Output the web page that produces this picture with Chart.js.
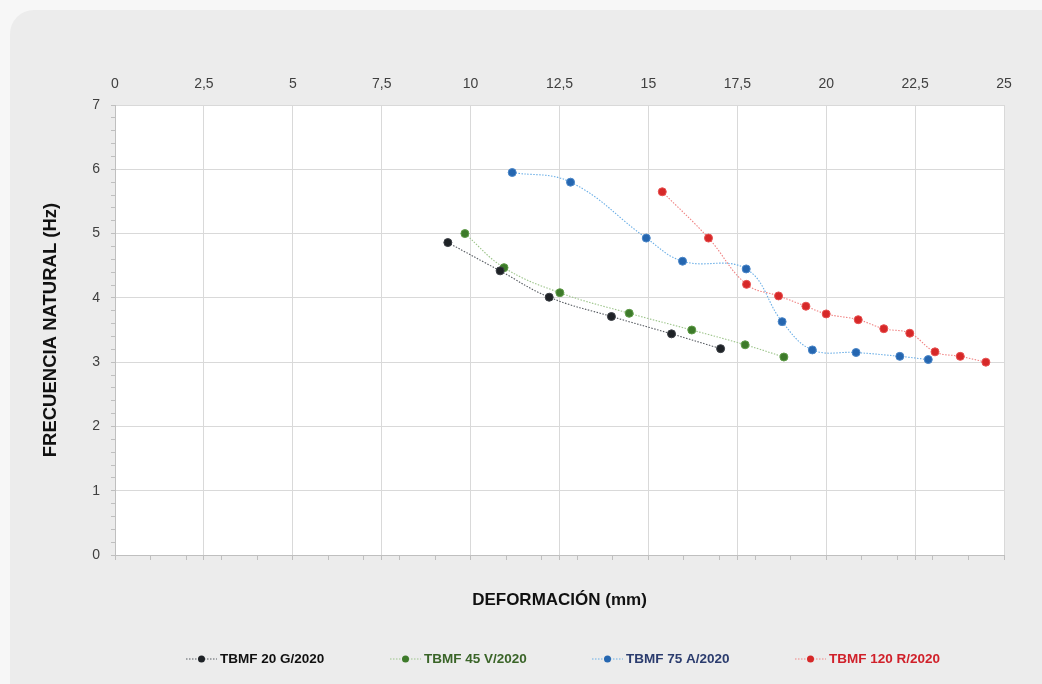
<!DOCTYPE html>
<html lang="es">
<head>
<meta charset="utf-8">
<title>Frecuencia natural vs deformación</title>
<script src="https://cdn.jsdelivr.net/npm/chart.js@4"></script>
<style>
  html, body { margin: 0; padding: 0; background: #f7f7f7; }
  #wrap { width: 1042px; height: 684px; position: relative; }
</style>
</head>
<body>
<div id="wrap"><canvas id="chart"></canvas></div>
<script>
// series names (legend order)
const seriesNames = ['TBMF 20 G/2020', 'TBMF 45 V/2020', 'TBMF 75 A/2020', 'TBMF 120 R/2020'];

// deformación (mm) / frecuencia natural (Hz)
const def20G  = [9.36, 10.83, 12.21, 13.96, 15.65, 17.03];
const freq20G = [4.86, 4.42, 4.01, 3.71, 3.44, 3.21];

const def45V  = [9.84, 10.94, 12.51, 14.46, 16.22, 17.72, 18.81];
const freq45V = [5.00, 4.47, 4.08, 3.76, 3.50, 3.27, 3.08];

const def75A  = [11.17, 12.81, 14.94, 15.96, 17.75, 18.76, 19.61, 20.84, 22.07, 22.87];
const freq75A = [5.95, 5.80, 4.93, 4.57, 4.45, 3.63, 3.19, 3.15, 3.09, 3.04];

const def120R  = [15.39, 16.69, 17.76, 18.66, 19.43, 20.00, 20.90, 21.62, 22.35, 23.06, 23.77, 24.49];
const freq120R = [5.65, 4.93, 4.21, 4.03, 3.87, 3.75, 3.66, 3.52, 3.45, 3.16, 3.09, 3.00];

// axis ranges
const xMin = 0, xMax = 25, xStep = 2.5;
const yMin = 0, yMax = 7;

const FONT = '"Liberation Sans", Arial, sans-serif';
const legendColors = ['#111111', '#3a6428', '#2b3c6e', '#d0202a'];
const legendX = [186, 390, 592, 795];

const isWhole = v => Math.abs(v - Math.round(v)) < 1e-6;

// bottom axis marks: every unit plus every 2.5
const bottomMarks = [];
for (let k = 0; k <= 50; k++) {
    const v = k / 2;
    if (isWhole(v) || isWhole(v / 2.5)) bottomMarks.push(v);
}
const yMarks = [];
for (let k = 0; k <= 35; k++) yMarks.push(k / 5);

function series(label, xs, ys, line, marker, edge) {
    return {
        label,
        data: xs.map((x, i) => ({x, y: ys[i]})),
        borderColor: line,
        borderWidth: 1.1,
        borderDash: [1.5, 1.5],
        pointBackgroundColor: marker,
        pointBorderColor: edge,
        pointBorderWidth: 1,
        pointRadius: 4,
        pointHoverRadius: 4,
        tension: 0.4,
        fill: false,
        xAxisID: 'x',
        yAxisID: 'y'
    };
}

const panel = {
    id: 'panel',
    beforeDraw(chart) {
        const {ctx, chartArea: a} = chart;
        ctx.save();
        ctx.fillStyle = '#f7f7f7';
        ctx.fillRect(0, 0, chart.width, chart.height);
        ctx.fillStyle = '#ececec';
        ctx.beginPath();
        ctx.roundRect(10, 10, chart.width + 20, chart.height + 20, 24);
        ctx.fill();
        ctx.fillStyle = '#ffffff';
        ctx.fillRect(a.left, a.top, a.right - a.left, a.bottom - a.top);
        ctx.restore();
    }
};

const lineLegend = {
    id: 'lineLegend',
    afterDraw(chart) {
        const ctx = chart.ctx;
        const y = 659;
        ctx.save();
        ctx.font = 'bold 13.5px ' + FONT;
        ctx.textBaseline = 'middle';
        chart.data.datasets.forEach((ds, i) => {
            const x = legendX[i];
            ctx.strokeStyle = ds.borderColor;
            ctx.lineWidth = 1.2;
            ctx.setLineDash([1.5, 1.5]);
            ctx.beginPath();
            ctx.moveTo(x, y);
            ctx.lineTo(x + 31, y);
            ctx.stroke();
            ctx.setLineDash([]);
            ctx.fillStyle = ds.pointBackgroundColor;
            ctx.beginPath();
            ctx.arc(x + 15.5, y, 3.5, 0, Math.PI * 2);
            ctx.fill();
            ctx.fillStyle = legendColors[i];
            ctx.fillText(ds.label, x + 34, y);
        });
        ctx.restore();
    }
};

new Chart(document.getElementById('chart'), {
    type: 'line',
    data: {
        datasets: [
            series(seriesNames[0], def20G, freq20G, '#555a60', '#1e2226', '#3a3e44'),
            series(seriesNames[1], def45V, freq45V, '#9cc48a', '#3d7a2a', '#5f9c48'),
            series(seriesNames[2], def75A, freq75A, '#6aaee6', '#2566b0', '#4a86c8'),
            series(seriesNames[3], def120R, freq120R, '#f08484', '#d62828', '#e85050')
        ]
    },
    options: {
        responsive: true,
        maintainAspectRatio: false,
        animation: false,
        events: [],
        layout: { padding: { left: 10, right: 38, top: 0, bottom: 0 } },
        plugins: {
            legend: { display: false },
            tooltip: { enabled: false }
        },
        scales: {
            x: {
                type: 'linear',
                position: 'top',
                min: xMin,
                max: xMax,
                afterFit(s) { s.height = 105; },
                ticks: {
                    stepSize: xStep,
                    padding: 12,
                    color: '#404040',
                    font: { family: FONT, size: 14 },
                    callback: v => String(v).replace('.', ',')
                },
                grid: { color: '#d9d9d9', drawTicks: false },
                border: { color: '#d9d9d9' }
            },
            x2: {
                type: 'linear',
                position: 'bottom',
                min: xMin,
                max: xMax,
                afterFit(s) { s.height = 129; },
                afterBuildTicks(s) { s.ticks = bottomMarks.map(v => ({value: v})); },
                ticks: { display: false },
                grid: { drawOnChartArea: false, tickLength: 5, tickColor: '#bfbfbf' },
                border: { color: '#bfbfbf' },
                title: {
                    display: true,
                    text: 'DEFORMACIÓN (mm)',
                    color: '#111111',
                    font: { family: FONT, size: 17, weight: 'bold' },
                    padding: { top: 0, bottom: 73 }
                }
            },
            y: {
                type: 'linear',
                min: yMin,
                max: yMax,
                afterFit(s) { s.width = 105; },
                afterBuildTicks(s) { s.ticks = yMarks.map(v => ({value: v})); },
                ticks: {
                    autoSkip: false,
                    padding: 11,
                    color: '#404040',
                    font: { family: FONT, size: 14 },
                    callback: v => isWhole(v) ? String(Math.round(v)) : ''
                },
                grid: {
                    color: c => isWhole(c.tick.value) ? '#d9d9d9' : 'rgba(0,0,0,0)',
                    tickLength: 4,
                    tickColor: '#bfbfbf'
                },
                border: { color: '#bfbfbf' },
                title: {
                    display: true,
                    text: 'FRECUENCIA NATURAL (Hz)',
                    color: '#111111',
                    font: { family: FONT, size: 18.5, weight: 'bold' },
                    padding: { top: 30, bottom: 0 }
                }
            }
        }
    },
    plugins: [panel, lineLegend]
});
</script>
</body>
</html>
